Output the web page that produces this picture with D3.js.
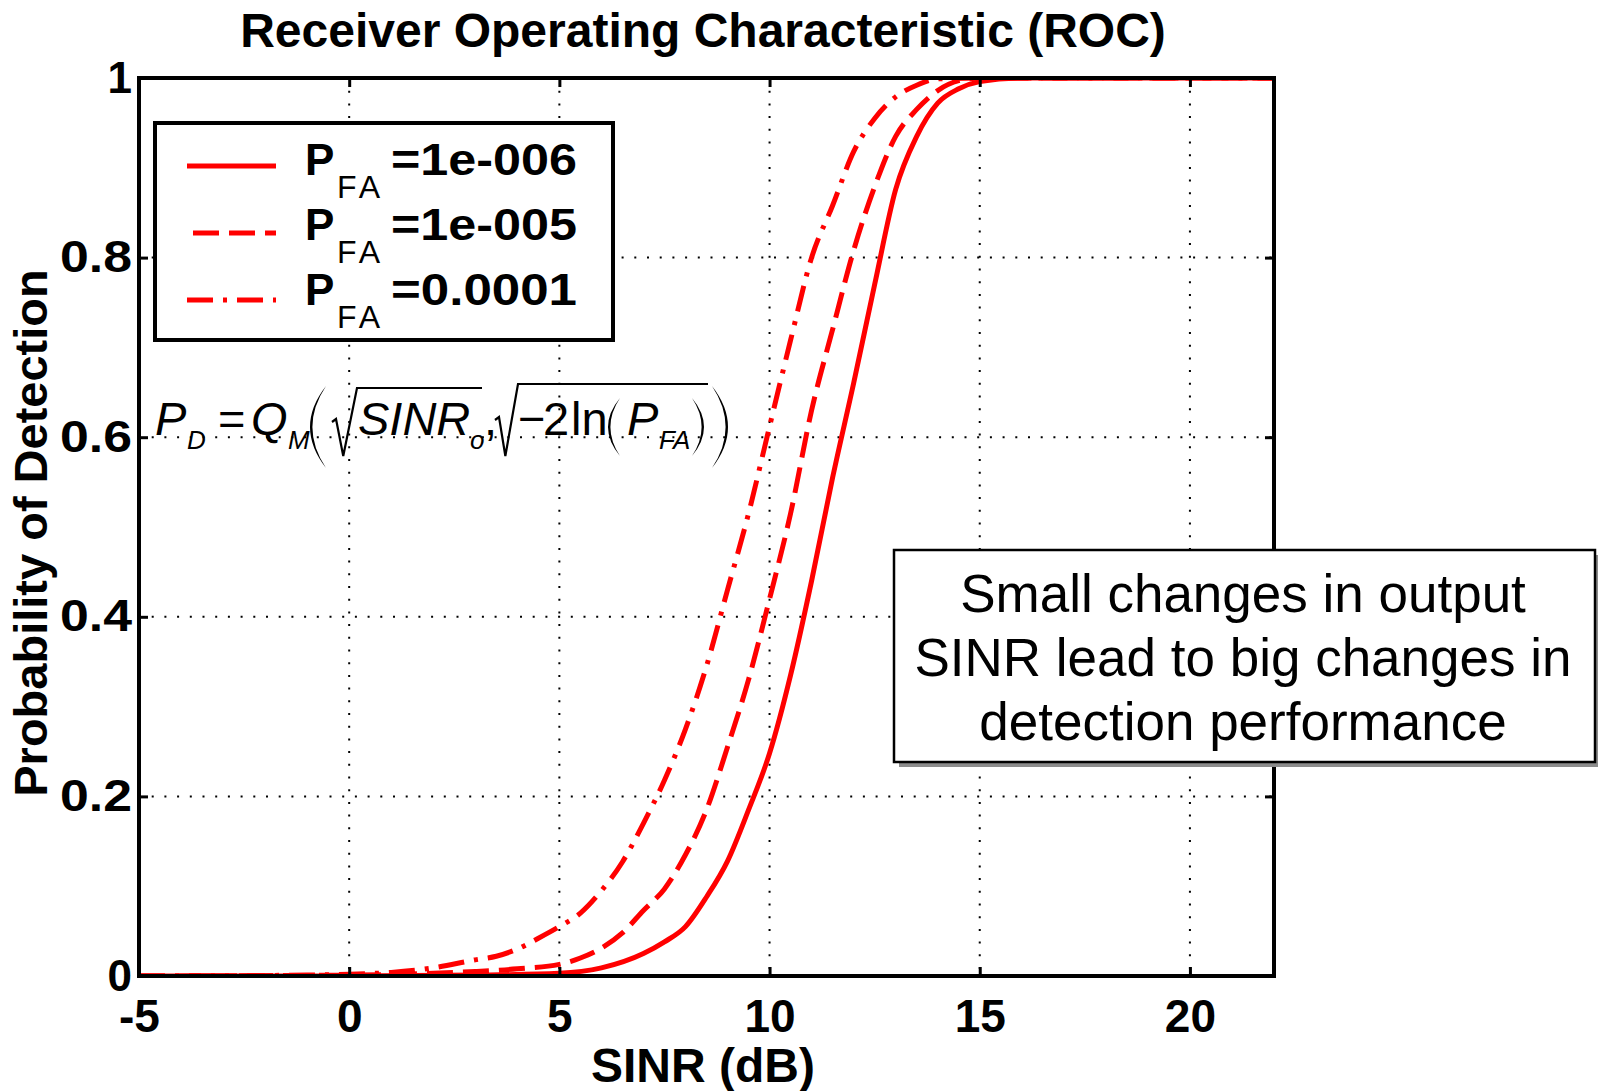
<!DOCTYPE html>
<html>
<head>
<meta charset="utf-8">
<script src="https://cdn.jsdelivr.net/npm/d3@7"></script>
<style>
	body { margin: 0; background: #fff; }
	svg { display: block; font-family: "Liberation Sans", Arial, sans-serif; }
</style>
</head>
<body>
<svg id="chart" width="1598" height="1091"></svg>
<script>
	// axis ticks
	var xTickValues = [-5, 0, 5, 10, 15, 20];
	var xTickLabels = ["-5", "0", "5", "10", "15", "20"];
	var yTickValues = [0, 0.2, 0.4, 0.6, 0.8, 1];
	var yTickLabels = ["0", "0.2", "0.4", "0.6", "0.8", "1"];

	// P_FA = 1e-006 (solid)
	var sinrSolid = [-5, 0, 3, 5, 6, 7, 7.5, 8, 8.5, 9, 9.5, 10, 10.5, 11, 11.5, 12, 12.5, 13, 13.5, 14, 14.5, 15, 16, 22];
	var pdSolid = [0, 0, 0.001, 0.003, 0.009, 0.025, 0.038, 0.055, 0.088, 0.128, 0.185, 0.248, 0.335, 0.44, 0.555, 0.66, 0.77, 0.876, 0.935, 0.972, 0.988, 0.996, 1, 1];

	// P_FA = 1e-005 (dashed)
	var sinrDashed = [-5, 0, 2, 3, 4, 5, 5.5, 6, 6.5, 7, 7.5, 8, 8.5, 9, 9.5, 10, 10.5, 11, 11.5, 12, 12.5, 13, 13.5, 14, 14.5, 15, 22];
	var pdDashed = [0, 0.001, 0.003, 0.005, 0.008, 0.013, 0.02, 0.031, 0.048, 0.073, 0.097, 0.135, 0.185, 0.255, 0.33, 0.42, 0.515, 0.63, 0.72, 0.808, 0.879, 0.935, 0.965, 0.986, 0.997, 1, 1];

	// P_FA = 0.0001 (dash-dot)
	var sinrDashDot = [-5, -1, 0, 1, 2, 3, 3.5, 4, 4.5, 5, 5.5, 6, 6.5, 7, 7.5, 8, 8.5, 9, 9.5, 10, 10.5, 11, 11.5, 12, 12.5, 13, 13.5, 14, 15, 22];
	var pdDashDot = [0, 0.001, 0.002, 0.004, 0.009, 0.018, 0.022, 0.03, 0.042, 0.055, 0.07, 0.095, 0.127, 0.17, 0.218, 0.275, 0.345, 0.43, 0.515, 0.612, 0.708, 0.8, 0.858, 0.918, 0.955, 0.979, 0.992, 0.999, 1, 1];

	var legendLabels = ["=1e-006", "=1e-005", "=0.0001"];
	var noteLines = ["Small changes in output", "SINR lead to big changes in", "detection performance"];

	var margin = {top: 78, right: 324, bottom: 115, left: 139},
		width = 1598 - margin.left - margin.right,
		height = 1091 - margin.top - margin.bottom;

	var dashStyles = [null, "26 10", "26 10 4 10"];
	var series = [
		{xs: sinrSolid, ys: pdSolid},
		{xs: sinrDashed, ys: pdDashed},
		{xs: sinrDashDot, ys: pdDashDot}
	];

	var svg = d3.select("#chart");
	svg.append("rect").attr("width", 1598).attr("height", 1091).attr("fill", "#fff");

	var x = d3.scaleLinear().domain([-5, 22]).range([0, width]);
	var y = d3.scaleLinear().domain([0, 1]).range([height, 0]);

	var g = svg.append("g")
		.attr("transform", "translate(" + margin.left + "," + margin.top + ")");

	// dotted grid
	g.selectAll(".vgrid")
		.data(xTickValues.filter(function(d) { return d > -5; }))
		.enter().append("line")
		.attr("x1", function(d) { return x(d); })
		.attr("x2", function(d) { return x(d); })
		.attr("y1", 0).attr("y2", height)
		.attr("stroke", "#000").attr("stroke-width", 2)
		.attr("stroke-dasharray", "2 10.7");
	g.selectAll(".hgrid")
		.data(yTickValues.filter(function(d) { return d > 0 && d < 1; }))
		.enter().append("line")
		.attr("y1", function(d) { return y(d); })
		.attr("y2", function(d) { return y(d); })
		.attr("x1", 0).attr("x2", width)
		.attr("stroke", "#000").attr("stroke-width", 2)
		.attr("stroke-dasharray", "2 10.7");

	// curves
	g.append("clipPath").attr("id", "plotClip")
		.append("rect").attr("width", width).attr("height", height);

	var line = d3.line()
		.x(function(d) { return x(d[0]); })
		.y(function(d) { return y(d[1]); })
		.curve(d3.curveMonotoneX);

	series.forEach(function(s, i) {
		var pts = s.xs.map(function(v, j) { return [v, s.ys[j]]; });
		g.append("path")
			.attr("clip-path", "url(#plotClip)")
			.attr("d", line(pts))
			.attr("fill", "none")
			.attr("stroke", "#ff0000")
			.attr("stroke-width", 5)
			.attr("stroke-dasharray", dashStyles[i]);
	});

	// axes, ticks pointing inwards
	var xAxis = g.append("g")
		.attr("transform", "translate(0," + height + ")")
		.call(d3.axisBottom(x).tickValues(xTickValues).tickSize(-9).tickSizeOuter(0)
			.tickFormat(function(d, i) { return xTickLabels[i]; }));
	xAxis.selectAll("text")
		.attr("y", 56).attr("dy", null)
		.style("font-size", "46px").style("font-weight", "bold").attr("fill", "#000");

	var yAxis = g.append("g")
		.call(d3.axisLeft(y).tickValues(yTickValues).tickSize(-9).tickSizeOuter(0).tickPadding(7)
			.tickFormat(function(d, i) { return yTickLabels[i]; }));
	yAxis.selectAll("text")
		.style("font-size", "44px").style("font-weight", "bold").attr("fill", "#000")
		.each(function() {
			var t = d3.select(this);
			if (t.text().length > 1) t.attr("textLength", 72).attr("lengthAdjust", "spacingAndGlyphs");
		});

	g.append("g")
		.call(d3.axisTop(x).tickValues(xTickValues).tickSize(-9).tickSizeOuter(0).tickFormat(""));
	g.append("g")
		.attr("transform", "translate(" + width + ",0)")
		.call(d3.axisRight(y).tickValues(yTickValues).tickSize(-9).tickSizeOuter(0).tickFormat(""));

	g.selectAll(".tick line").attr("stroke", "#000").attr("stroke-width", 3);
	g.selectAll(".domain").remove();

	g.append("rect")
		.attr("width", width).attr("height", height)
		.attr("fill", "none").attr("stroke", "#000").attr("stroke-width", 4);

	// titles
	svg.append("text")
		.attr("x", 703).attr("y", 47)
		.attr("text-anchor", "middle")
		.style("font-size", "48px").style("font-weight", "bold")
		.text("Receiver Operating Characteristic (ROC)");

	svg.append("text")
		.attr("x", 703).attr("y", 1082)
		.attr("text-anchor", "middle")
		.style("font-size", "48px").style("font-weight", "bold")
		.text("SINR (dB)");

	svg.append("text")
		.attr("transform", "translate(47,533) rotate(-90)")
		.attr("text-anchor", "middle")
		.style("font-size", "47px").style("font-weight", "bold")
		.text("Probability of Detection");

	// legend
	var legend = svg.append("g");
	legend.append("rect")
		.attr("x", 155).attr("y", 123).attr("width", 458).attr("height", 217)
		.attr("fill", "#fff").attr("stroke", "#000").attr("stroke-width", 4);

	legendLabels.forEach(function(label, i) {
		var ly = 166 + i * 67;
		legend.append("line")
			.attr("x1", i === 1 ? 193 : 187).attr("x2", 276)
			.attr("y1", ly).attr("y2", ly)
			.attr("stroke", "#ff0000").attr("stroke-width", 5)
			.attr("stroke-dasharray", dashStyles[i]);
		var by = 175 + i * 65;
		legend.append("text")
			.attr("x", 305).attr("y", by)
			.style("font-size", "44px").style("font-weight", "bold")
			.text("P");
		legend.append("text")
			.attr("x", 337).attr("y", by + 23)
			.style("font-size", "32px").attr("letter-spacing", 4)
			.text("FA");
		legend.append("text")
			.attr("x", 391).attr("y", by)
			.attr("textLength", 186).attr("lengthAdjust", "spacingAndGlyphs")
			.style("font-size", "44px").style("font-weight", "bold")
			.text(label);
	});

	// formula P_D = Q_M( sqrt(SINR_o), sqrt(-2 ln(P_FA)) )
	var formula = svg.append("g").attr("fill", "#000");
	var fBase = 435;
	var fPieces = [
		{t: "P", x: 155, sub: false, it: true},
		{t: "D", x: 187, sub: true, it: true},
		{t: "=", x: 218, sub: false, it: false},
		{t: "Q", x: 251, sub: false, it: true},
		{t: "M", x: 288, sub: true, it: true},
		{t: "SINR", x: 358, sub: false, it: true},
		{t: "o", x: 470, sub: true, it: true},
		{t: ",", x: 484, sub: false, it: false},
		{t: "\u2212", x: 518, sub: false, it: false},
		{t: "2", x: 543, sub: false, it: false},
		{t: "ln", x: 571, sub: false, it: false},
		{t: "P", x: 627, sub: false, it: true},
		{t: "FA", x: 659, sub: true, it: true}
	];
	fPieces.forEach(function(p) {
		formula.append("text")
			.attr("x", p.x).attr("y", p.sub ? fBase + 14 : fBase)
			.style("font-size", p.sub ? "26px" : "47px")
			.style("font-style", p.it ? "italic" : "normal")
			.text(p.t);
	});

	function paren(x0, x1, top, bottom, left) {
		var mid = (top + bottom) / 2, w = x1 - x0, th = 2.4;
		if (left) {
			return "M" + x1 + "," + top + "Q" + (x0 - w) + "," + mid + " " + x1 + "," + bottom +
				"Q" + (x0 + 2 * th - w) + "," + mid + " " + x1 + "," + top + "Z";
		}
		return "M" + x0 + "," + top + "Q" + (x1 + w) + "," + mid + " " + x0 + "," + bottom +
			"Q" + (x1 - 2 * th + w) + "," + mid + " " + x0 + "," + top + "Z";
	}
	formula.append("path").attr("d", paren(310, 326, 386, 468, true));
	formula.append("path").attr("d", paren(712, 728, 386, 468, false));
	formula.append("path").attr("d", paren(608, 620, 398, 456, true));
	formula.append("path").attr("d", paren(692, 704, 398, 456, false));

	function radical(x0, x1, top, bottom, end) {
		return "M" + x0 + "," + (top + 0.5 * (bottom - top)) +
			"l4,-3L" + (x0 + 0.45 * (x1 - x0)) + "," + bottom +
			"L" + x1 + "," + top + "L" + end + "," + top;
	}
	formula.append("path").attr("d", radical(332, 357, 388, 456, 482))
		.attr("fill", "none").attr("stroke", "#000").attr("stroke-width", 2.2);
	formula.append("path").attr("d", radical(495, 518, 384, 456, 708))
		.attr("fill", "none").attr("stroke", "#000").attr("stroke-width", 2.2);

	// note box with drop shadow
	var note = svg.append("g");
	note.append("rect")
		.attr("x", 899).attr("y", 555).attr("width", 701).attr("height", 212)
		.attr("fill", "#8c8c8c");
	note.append("rect")
		.attr("x", 894).attr("y", 550).attr("width", 701).attr("height", 212)
		.attr("fill", "#fff").attr("stroke", "#000").attr("stroke-width", 2.5);
	note.selectAll("text")
		.data(noteLines)
		.enter().append("text")
		.attr("x", 1243)
		.attr("y", function(d, i) { return 612 + i * 64; })
		.attr("text-anchor", "middle")
		.style("font-size", "53px")
		.text(function(d) { return d; });
</script>
</body>
</html>
